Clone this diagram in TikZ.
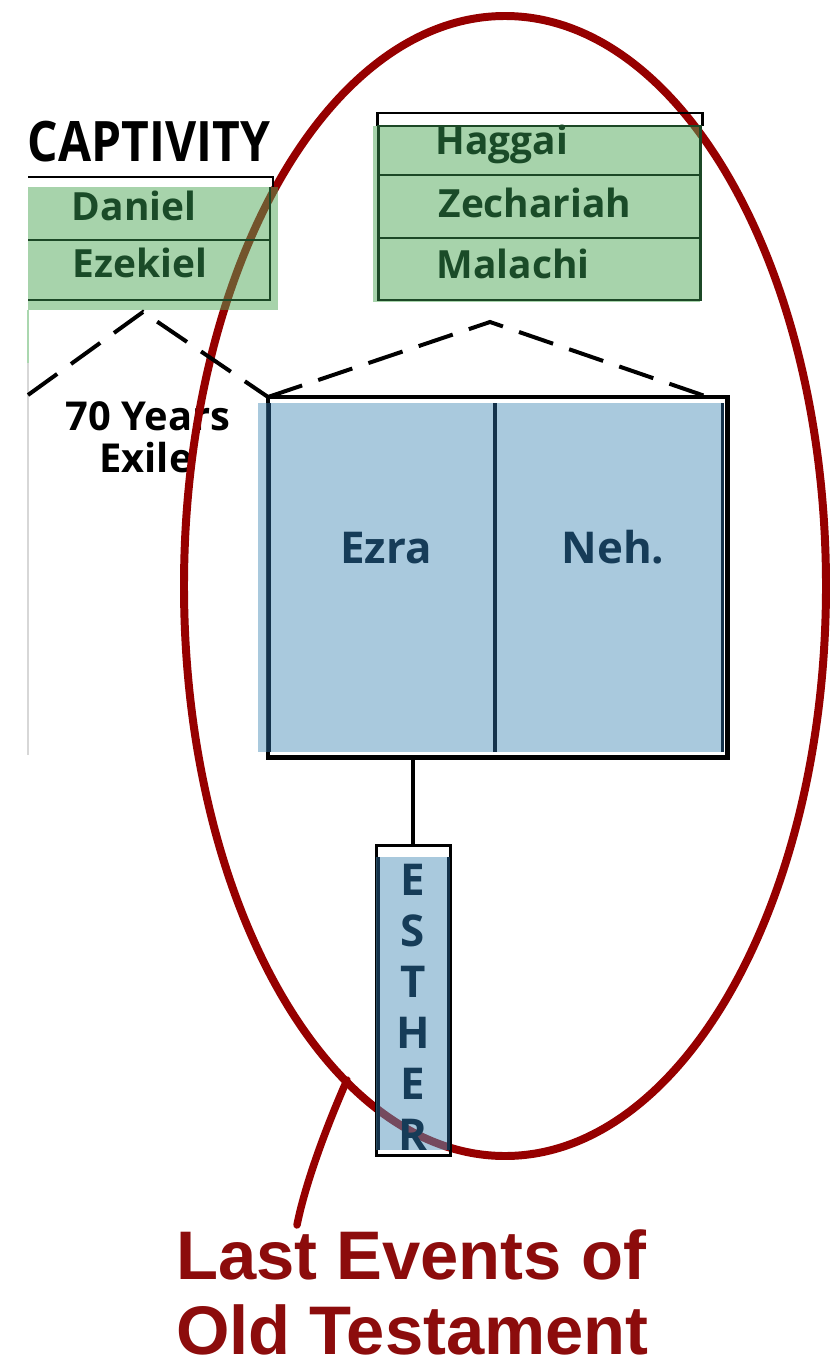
\documentclass[tikz,border=0pt]{standalone}
\usepackage{fontspec}
\setmainfont{Open Sans}
\newfontfamily\arialfont{Liberation Sans}
\definecolor{ovred}{RGB}{150,0,0}
\definecolor{txtred}{RGB}{140,12,12}
\definecolor{gfill}{RGB}{81,169,89}
\definecolor{bfill}{RGB}{85,149,189}
\definecolor{gline}{RGB}{28,72,38}
\definecolor{gtext}{RGB}{26,75,40}
\definecolor{bline}{RGB}{20,50,75}
\definecolor{btext}{RGB}{22,60,88}
\definecolor{faint}{RGB}{215,215,215}
\definecolor{faintg}{RGB}{170,215,175}
\begin{document}
\begin{tikzpicture}[x=1bp,y=-1bp,
  gtxt/.style={text=gtext, font=\bfseries\fontsize{39}{39}\selectfont, anchor=base, inner sep=0},
  btxt/.style={text=btext, font=\bfseries\fontsize{44}{44}\selectfont, anchor=base, inner sep=0},
  ktxt/.style={text=black, font=\bfseries\fontsize{40}{40}\selectfont, anchor=base, inner sep=0},
  rtxt/.style={text=txtred, font=\arialfont\bfseries\fontsize{69}{69}\selectfont, anchor=base west, inner sep=0},
  gedge/.style={draw=gline, line width=3},
  bedge/.style={draw=bline, line width=4},
  gshade/.style={fill=gfill, fill opacity=0.5},
  bshade/.style={fill=bfill, fill opacity=0.5},
  dashline/.style={draw=black, line width=4, dash pattern=on 36bp off 17bp},
  outline/.style={draw=black, inner sep=0, outer sep=0}
]
\useasboundingbox (0,0) rectangle (839,1366);
\fill[white] (0,0) rectangle (839,1366);

% faint edge lines
\draw[faintg, line width=2] (28,310) -- (28,363);
\draw[faint, line width=1.5] (28,363) -- (28,755);

% 70 Years Exile
\node[ktxt] (seventy) at (148,430) {70 Years};
\node[ktxt] (exile) at (146,472) {Exile};

% red ellipse and tail
\draw[ovred, line width=8] (505,586) ellipse [x radius=321, y radius=570];
\coordinate (tailtop) at (347,1080);
\coordinate (tailend) at (297,1225);
\draw[ovred, line width=7.5, line cap=round] (tailtop) .. controls (325,1130) and (305,1185) .. (tailend);

% CAPTIVITY block
\node[ktxt, font=\bfseries\fontsize{56}{56}\selectfont] (captivity) at (149,162) {\scalebox{0.86}[1]{CAPTIVITY}};
\draw[black, line width=3] (28,177) -- (273,177) -- (273,187);
\fill[gshade] (28,187) rectangle (278,310);
\draw[gedge] (270,187) -- (270,300) -- (28,300);
\draw[gedge] (28,240) -- (270,240);
\node[gtxt] (daniel) at (134,221) {Daniel};
\node[gtxt] (ezekiel) at (140,277) {Ezekiel};

% Haggai block
\draw[black, line width=3] (377,126) -- (377,113) -- (702,113) -- (702,126);
\fill[gshade] (373,126) rectangle (700,302);
\draw[gedge] (378,126) rectangle (700,300);
\draw[gedge] (378,175) -- (700,175);
\draw[gedge] (378,238) -- (700,238);
\node[gtxt] (haggai) at (502,155) {Haggai};
\node[gtxt] (zechariah) at (535,218) {Zechariah};
\node[gtxt] (malachi) at (513,278) {Malachi};

% Ezra / Nehemiah block
\node[outline, line width=5, minimum width=459bp, minimum height=360bp] (ezneh) at (497.5,577) {};
\fill[bshade] (258,403) rectangle (722,752);
\draw[bedge, line width=5] (269,403) -- (269,752);
\draw[bedge, line width=5] (495,403) -- (495,752);
\draw[bedge, line width=3] (722,403) -- (722,752);
\node[btxt] (ezra) at (386,563) {Ezra};
\node[btxt] (neh) at (613,563) {Neh.};

% dashed connectors
\coordinate (apexL) at (143,312);
\coordinate (leftend) at (28,395);
\coordinate (apexR) at (490,322);
\coordinate (rightend) at (705,396);
\draw[dashline] (leftend) -- (apexL) -- (ezneh.north west);
\draw[dashline] (ezneh.north west) -- (apexR) -- (rightend);

% Esther
\node[outline, line width=3, minimum width=74bp, minimum height=310bp] (esther) at (413,1000) {};
\draw[black, line width=4] (ezneh.south -| esther.north) -- (esther.north);
\fill[bshade] (376,857) rectangle (450,1150);
\draw[bedge, line width=3] (378,857) -- (378,1150);
\draw[bedge, line width=3] (448,857) -- (448,1150);
\foreach \ch/\yy [count=\i] in {E/895,S/946,T/997,H/1048,E/1099,R/1150}{
  \node[btxt] (est\i) at (413,\yy) {\ch};
}

% caption
\node[rtxt] (last) at (176,1279) {Last Events of};
\node[rtxt] (oldt) at (176,1354) {Old Testament};
\end{tikzpicture}
\end{document}
